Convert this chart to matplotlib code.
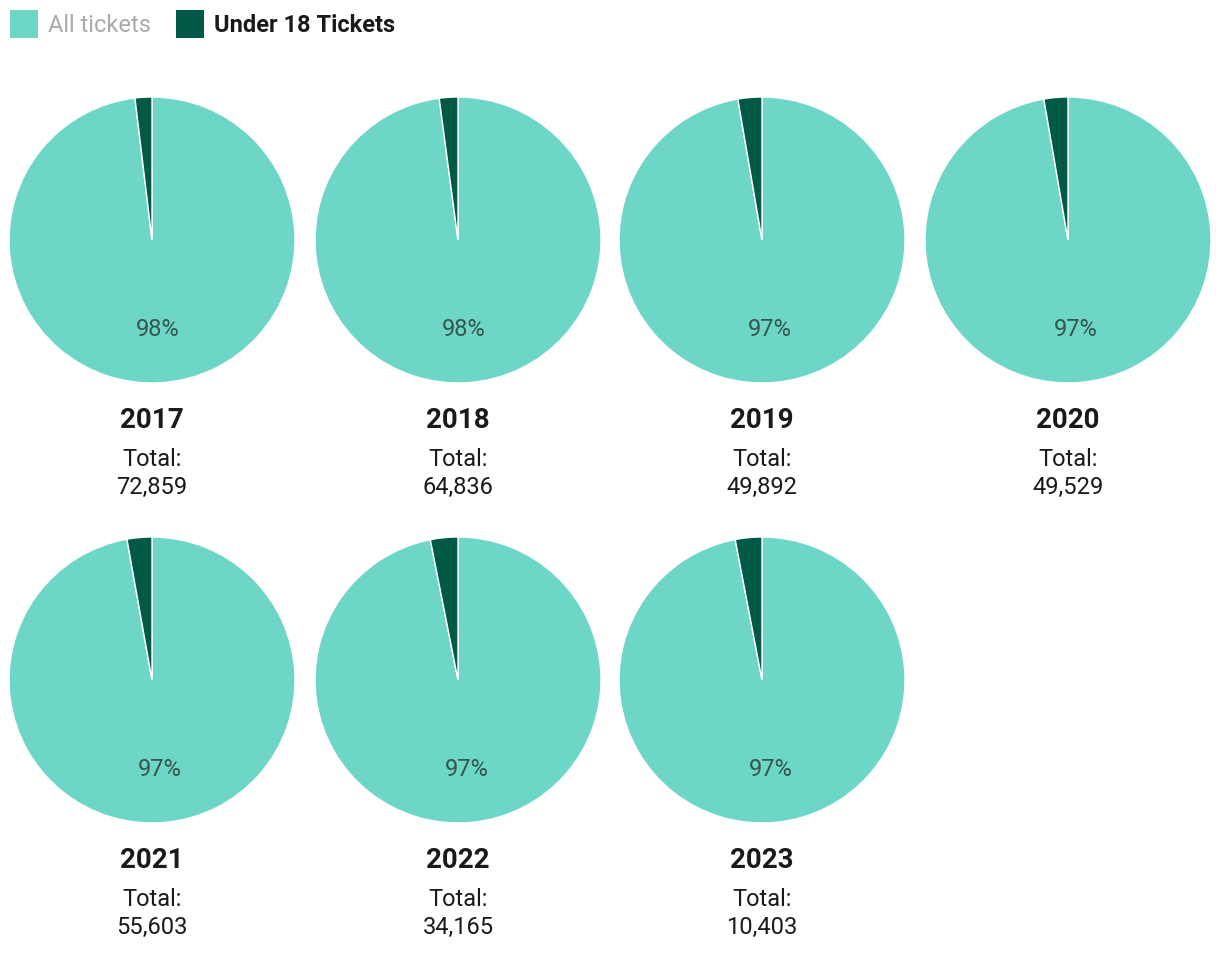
import matplotlib
matplotlib.use("Agg")
import matplotlib.pyplot as plt
from matplotlib.patches import Rectangle

plt.rcParams['font.family'] = ['Roboto', 'DejaVu Sans']

years = ['2017', '2018', '2019', '2020', '2021', '2022', '2023']
totals = ['72,859', '64,836', '49,892', '49,529', '55,603', '34,165', '10,403']
under18_pct = [1.9, 2.1, 2.7, 2.7, 2.8, 3.1, 3.0]

light = '#6dd6c6'
dark = '#005a45'

W, H = 1220, 968
fig = plt.figure(figsize=(W / 100, H / 100), dpi=100)

col_x = [152, 458, 762, 1068]
row_y = [240, 680]
r = 143

for i, yr in enumerate(years):
    cx = col_x[i % 4]
    cy = row_y[i // 4]
    ax = fig.add_axes([(cx - r) / W, 1 - (cy + r) / H, 2 * r / W, 2 * r / H])
    u = under18_pct[i]
    ax.pie([100 - u, u], colors=[light, dark], startangle=90, counterclock=False,
           radius=1, wedgeprops=dict(edgecolor='white', linewidth=1),
           autopct=lambda p: '%d%%' % round(p) if p > 50 else '', pctdistance=0.63,
           textprops=dict(color='#35574f', fontsize=17))
    ax.set_xlim(-1, 1)
    ax.set_ylim(-1, 1)
    ax.set_aspect('equal')
    ax.axis('off')

    fig.text(cx / W, 1 - (cy + 180) / H, yr, ha='center', va='center', fontsize=20,
             fontweight='bold', color='#1a1a1a')
    fig.text(cx / W, 1 - (cy + 219) / H, 'Total:', ha='center', va='center', fontsize=17,
             color='#1a1a1a')
    fig.text(cx / W, 1 - (cy + 247) / H, totals[i], ha='center', va='center', fontsize=17,
             color='#1a1a1a')

# legend
fig.patches.append(Rectangle((10 / W, 1 - 38 / H), 28 / W, 28 / H, transform=fig.transFigure,
                             facecolor=light, edgecolor='none'))
fig.text(48 / W, 1 - 26 / H, 'All tickets', ha='left', va='center', fontsize=17, color='#aaaaaa')
fig.patches.append(Rectangle((176 / W, 1 - 38 / H), 28 / W, 28 / H, transform=fig.transFigure,
                             facecolor=dark, edgecolor='none'))
fig.text(214 / W, 1 - 26 / H, 'Under 18 Tickets', ha='left', va='center', fontsize=17,
         fontweight='bold', color='#1a1a1a')

fig.savefig('out.png', dpi=100, facecolor='white')
